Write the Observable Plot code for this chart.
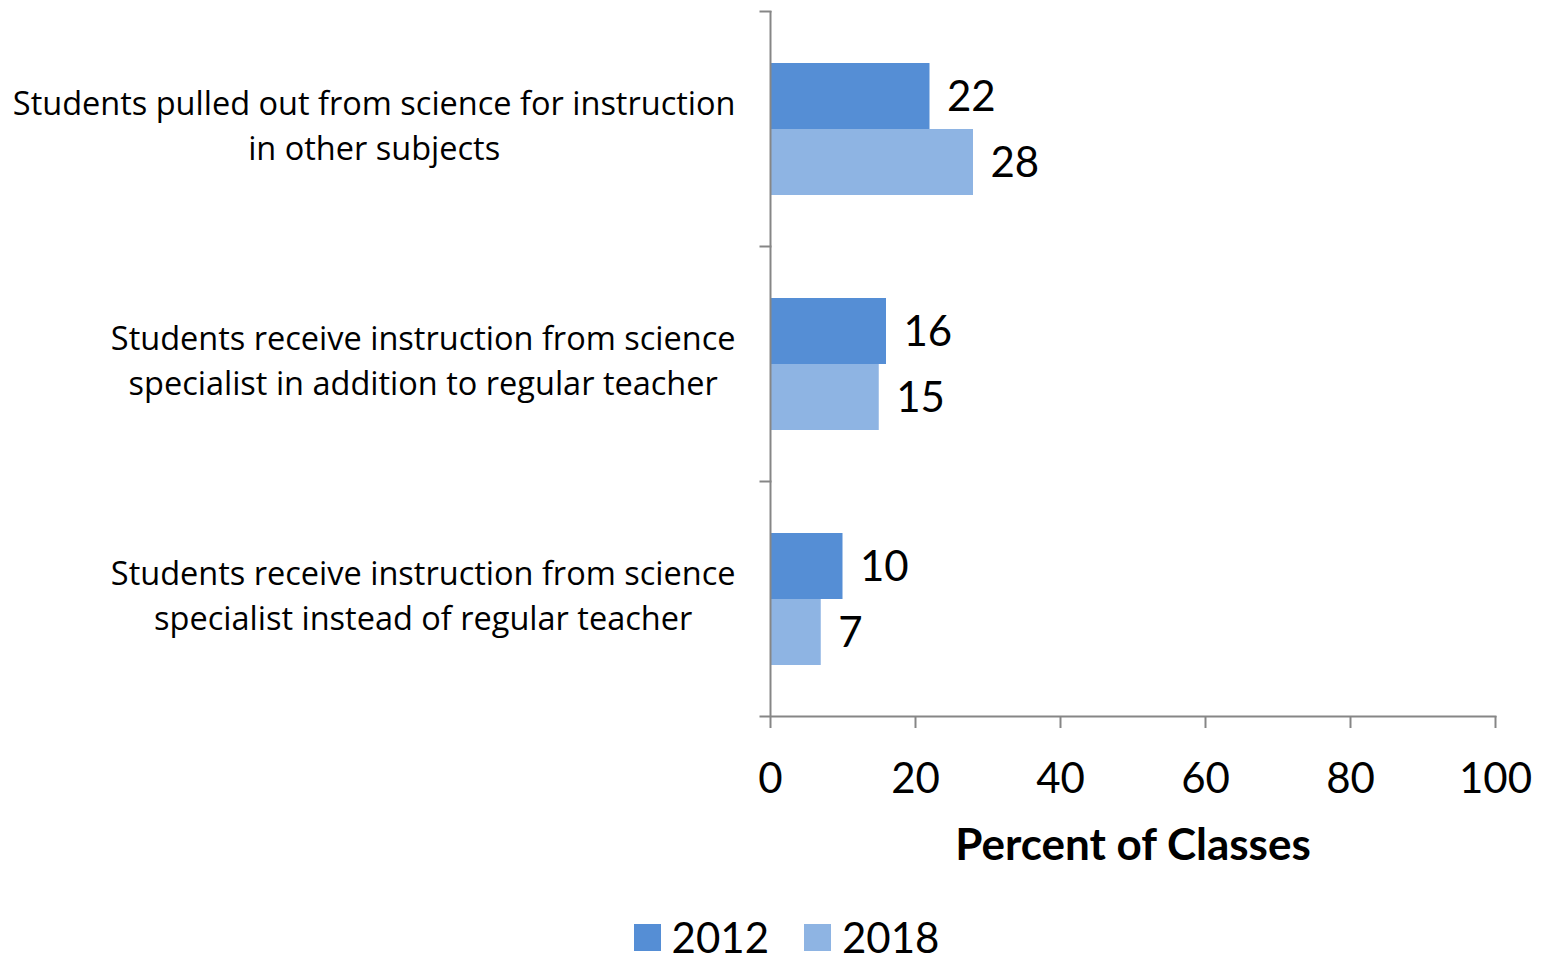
<!DOCTYPE html>
<html>
<head>
<meta charset="utf-8">
<script src="https://cdn.jsdelivr.net/npm/d3@7"></script>
<script src="https://cdn.jsdelivr.net/npm/@observablehq/plot@0.6"></script>
<style>
  html, body { margin: 0; padding: 0; background: #fff; }
  body { width: 1548px; height: 959px; overflow: hidden; font-family: Lato, sans-serif; }
  #legend { display: flex; justify-content: center; align-items: center; gap: 35px; padding-left: 25px; font-size: 42px; color: #000; line-height: 1; margin-top: 16px; }
  #legend .item { display: flex; align-items: center; gap: 11px; }
  #legend .sw { width: 27px; height: 27px; display: inline-block; }
</style>
</head>
<body>
<div id="chart"></div>
<div id="legend"></div>
<script>
const categories = [
  "Students pulled out from science for instruction\nin other subjects",
  "Students receive instruction from science\nspecialist in addition to regular teacher",
  "Students receive instruction from science\nspecialist instead of regular teacher"
];
const years = ["2012", "2018"];
const values2012 = [22, 16, 10];
const values2018 = [28, 15, 7];
const colors = ["#558ED5", "#8EB4E3"];
const xTicks = [0, 20, 40, 60, 80, 100];
const xLabel = "Percent of Classes";

const data = [];
categories.forEach((c, i) => {
  data.push({cat: c, year: years[0], value: values2012[i]});
  data.push({cat: c, year: years[1], value: values2018[i]});
});

const W = 1548, H = 900;
const mL = 770, mR = 53, mT = 10, mB = H - 716;
const plotW = W - mL - mR;
const axisColor = "#868686";

const plot = Plot.plot({
  width: W,
  height: H,
  marginLeft: mL,
  marginRight: mR,
  marginTop: mT,
  marginBottom: mB,
  style: {fontFamily: "Lato, sans-serif", fontSize: "42px", color: "#000", background: "#fff"},
  x: {domain: [0, 100], axis: null},
  y: {domain: years, paddingInner: 0, paddingOuter: 0.756, axis: null},
  fy: {domain: categories, padding: 0, axis: null},
  color: {domain: years, range: colors},
  marks: [
    Plot.barX(data, {x: "value", y: "year", fy: "cat", fill: "year"}),
    Plot.text(data, {x: "value", y: "year", fy: "cat", text: d => String(d.value), dx: 17, dy: 1, textAnchor: "start", fontSize: 42, fill: "#000"}),
    Plot.ruleX([0], {stroke: axisColor, strokeWidth: 2}),
    Plot.frame({anchor: "top", stroke: axisColor, strokeWidth: 2, insetLeft: -10, insetRight: plotW}),
    Plot.frame({anchor: "bottom", facetAnchor: "bottom", stroke: axisColor, strokeWidth: 2, insetLeft: -10}),
    Plot.axisX({ticks: xTicks, tickSize: 12, tickPadding: 35, stroke: axisColor, strokeWidth: 2, fontSize: 42, label: null}),
    Plot.axisFy({anchor: "left", tickSize: 0, tickPadding: 35, fontSize: 32.5, fontFamily: "Open Sans, sans-serif", lineHeight: 1.39, dy: -6, label: null}),
    Plot.text([xLabel], {text: d => d, frameAnchor: "bottom", lineAnchor: "middle", facetAnchor: "bottom", dy: 129, fontSize: 44, fontWeight: "bold", fill: "#000", x: () => 50})
  ]
});

document.getElementById("chart").append(plot);

// center each multi-line category label block, keeping its right edge at the tick padding
plot.querySelectorAll('g[aria-label="fy-axis tick label"] text').forEach(t => {
  const w = t.getBBox().width;
  t.setAttribute("text-anchor", "middle");
  const tr = t.getAttribute("transform") || "";
  t.setAttribute("transform", tr + ` translate(${-w / 2},0)`);
});

const legend = d3.select("#legend");
years.forEach((y, i) => {
  const item = legend.append("div").attr("class", "item");
  item.append("span").attr("class", "sw").style("background", colors[i]);
  item.append("span").text(y);
});
</script>
</body>
</html>
